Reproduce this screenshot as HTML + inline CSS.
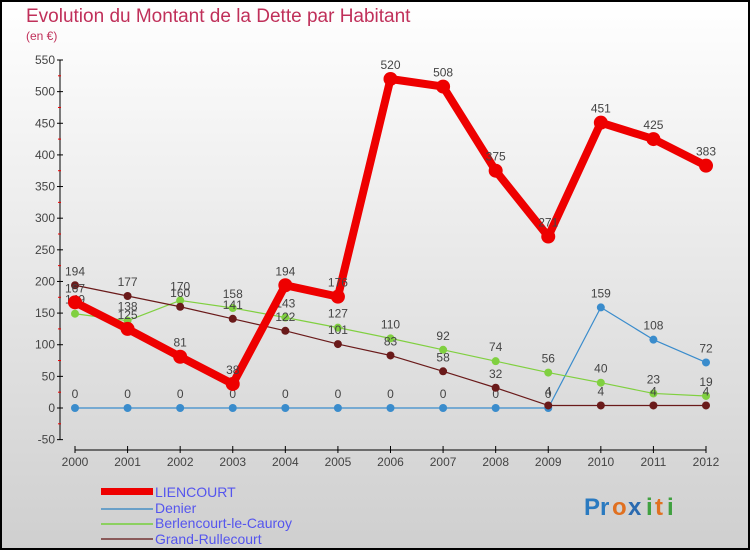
<!DOCTYPE html>
<html><head><meta charset="utf-8"><style>
html,body{margin:0;padding:0}
body{width:750px;height:550px;overflow:hidden;font-family:"Liberation Sans",sans-serif}
</style></head><body>
<svg id="chart" width="750" height="550" xmlns="http://www.w3.org/2000/svg">
<defs><linearGradient id="bg" x1="0" y1="0" x2="0" y2="1"><stop offset="0" stop-color="#ffffff"/><stop offset="1" stop-color="#cfcfcf"/></linearGradient></defs>
<rect x="1" y="1" width="748" height="548" fill="url(#bg)" stroke="#000" stroke-width="2"/>
<text x="26" y="22" font-size="19" fill="#c0305a">Evolution du Montant de la Dette par Habitant</text>
<text x="26" y="40" font-size="12" fill="#c0305a">(en €)</text>
<g id="axes"></g>
<g id="series"></g>
<g id="legend">
<rect x="101" y="488" width="52" height="7" fill="#e00"/>
<text x="155" y="497" font-size="14" fill="#5555ee">LIENCOURT</text>
<rect x="101" y="508" width="52" height="2" fill="#6aa0c8"/>
<text x="155" y="513" font-size="14" fill="#5555ee">Denier</text>
<rect x="101" y="523" width="52" height="2" fill="#8cd060"/>
<text x="155" y="528" font-size="14" fill="#5555ee">Berlencourt-le-Cauroy</text>
<rect x="101" y="538" width="52" height="2" fill="#8a5a5a"/>
<text x="155" y="544" font-size="14" fill="#5555ee">Grand-Rullecourt</text>
</g>
<g font-size="24" font-weight="bold">
<text x="584" y="515" fill="#2a7ac0">Pr</text><text x="612" y="515" fill="#e07020">o</text><text x="628" y="515" fill="#2a6ab0">x</text><text x="646" y="515" fill="#40a040">i</text><text x="655" y="515" fill="#e07020">t</text><text x="667" y="515" fill="#40a040">i</text>
</g>
</svg>
<script>
const years=[2000,2001,2002,2003,2004,2005,2006,2007,2008,2009,2010,2011,2012];
const liencourt=[167,125,81,38,194,176,520,508,375,271,451,425,383];
const denier=[0,0,0,0,0,0,0,0,0,0,159,108,72];
const berlencourt=[149,138,170,158,143,127,110,92,74,56,40,23,19];
const grandRullecourt=[194,177,160,141,122,101,83,58,32,4,4,4,4];
const yTicks=[-50,0,50,100,150,200,250,300,350,400,450,500,550];
const NS="http://www.w3.org/2000/svg";
function xs(i){return 75+i*(706-75)/12;}
function ys(v){return 408-v*348/550;}
function mk(tag,attrs,parent){const e=document.createElementNS(NS,tag);for(const k in attrs)e.setAttribute(k,attrs[k]);parent.appendChild(e);return e;}
const axes=document.getElementById('axes');
let a=mk('line',{x1:60,y1:ys(550),x2:60,y2:ys(-50),stroke:'#000','stroke-width':1},axes);


yTicks.forEach(t=>{
 const y=ys(t);
 let tk=mk('line',{x1:57,y1:y,x2:63,y2:y,stroke:'#000'},axes);
 
 
 if(t<550){let m=mk('line',{x1:58,y1:ys(t+25),x2:61,y2:ys(t+25),stroke:'#e00'},axes);
 
 }
 let lb=mk('text',{x:55,y:y+4,'text-anchor':'end','font-size':12,fill:'#444'},axes);
 lb.textContent=t;
 
 
});
let xa=mk('line',{x1:75,y1:450,x2:706,y2:450,stroke:'#000'},axes);


years.forEach((yr,i)=>{
 let tk=mk('line',{x1:xs(i),y1:446,x2:xs(i),y2:453,stroke:'#000'},axes);
 
 
 let lb=mk('text',{x:xs(i),y:466,'text-anchor':'middle','font-size':12,fill:'#444'},axes);
 lb.textContent=yr;
 
 
});
const sg=document.getElementById('series');
function draw(vals,color,w,r,name){
 const g=mk('g',{},sg);
 
 
 const p=mk('polyline',{points:vals.map((v,i)=>xs(i)+','+ys(v)).join(' '),fill:'none',stroke:color,'stroke-width':w,'stroke-linejoin':'round'},g);
 
 
 vals.forEach((v,i)=>{
  const c=mk('circle',{cx:xs(i),cy:ys(v),r:r,fill:color},g);
  
  
  const t=mk('text',{x:xs(i),y:ys(v)-10,'text-anchor':'middle','font-size':12,fill:'#444'},g);
  t.textContent=v;
  
  
 });
}
draw(denier,'#3a8ccc',1.2,4,'denier');
draw(berlencourt,'#80d040',1.2,4,'berlencourt');
draw(grandRullecourt,'#6a1a1a',1.2,4,'grand-rullecourt');
draw(liencourt,'#ee0000',8,7,'liencourt');
</script>
</body></html>
